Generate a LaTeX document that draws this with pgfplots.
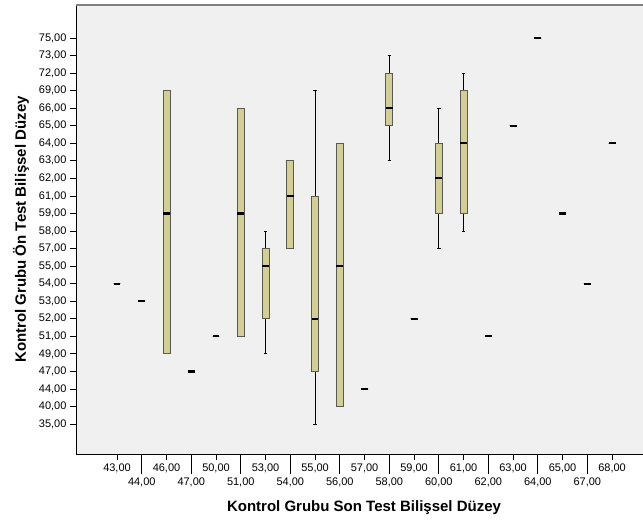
\documentclass[border=0pt]{standalone}
\usepackage{fontspec}
\setmainfont{Liberation Sans}
\usepackage{pgfplots}
\pgfplotsset{compat=1.18}
\usepgfplotslibrary{statistics}
\definecolor{boxfill}{RGB}{211,206,151}
\definecolor{boxedge}{RGB}{90,90,80}
\definecolor{bg}{RGB}{240,240,240}
\newcommand{\bp}[6]{\addplot[draw=boxedge, fill=boxfill, line width=0.8pt,
  boxplot prepared={draw position=#1, lower whisker=#2, lower quartile=#3,
  median=#4, upper quartile=#5, upper whisker=#6}] coordinates {};}
\begin{document}
\begin{tikzpicture}
\begin{axis}[
  at={(0,0)}, anchor=south west,
  width=567pt, height=449pt, scale only axis,
  xmin=-1.657, xmax=21.25, ymin=-1.705, ymax=23.88,
  axis x line*=bottom, axis y line*=left,
  axis line style={black, line width=0.8pt, -},
  axis background/.style={fill=bg},
  tick align=outside,
  major tick length=6pt,
  tick style={black, line width=0.8pt},
  tick label style={font=\fontsize{11}{13}\selectfont},
  xtick={0,2,...,20},
  xticklabels={{43,00},{46,00},{50,00},{53,00},{55,00},{57,00},{59,00},{61,00},{63,00},{65,00},{68,00}},
  extra x ticks={1,3,...,19},
  extra x tick labels={{44,00},{47,00},{51,00},{54,00},{56,00},{58,00},{60,00},{62,00},{64,00},{67,00}},
  extra x tick style={major tick length=20pt},
  ytick={0,...,22},
  yticklabels={{35,00},{40,00},{44,00},{47,00},{49,00},{51,00},{52,00},{53,00},{54,00},{55,00},{57,00},{58,00},{59,00},{61,00},{62,00},{63,00},{64,00},{65,00},{66,00},{69,00},{72,00},{73,00},{75,00}},
  xlabel={Kontrol Grubu Son Test Bilişsel Düzey},
  ylabel={Kontrol Grubu Ön Test Bilişsel Düzey},
  every axis x label/.style={at={(axis description cs:0.508,-0.120)}, anchor=center, font=\bfseries\fontsize{15}{18}\selectfont},
  every axis y label/.style={at={(axis description cs:-0.097,0.5)}, rotate=90, anchor=center, font=\bfseries\fontsize{15}{18}\selectfont},
  boxplot/draw direction=y,
  boxplot/box extend=0.28,
  boxplot/whisker extend=0.14,
  boxplot/every whisker/.style={black, line width=0.8pt},
  boxplot/every median/.style={black, line width=2.2pt},
]
\bp{0}{8}{8}{8}{8}{8}
\bp{1}{7}{7}{7}{7}{7}
\bp{2}{4}{4}{12}{19}{19}
\bp{3}{3}{3}{3}{3}{3}
\bp{4}{5}{5}{5}{5}{5}
\bp{5}{5}{5}{12}{18}{18}
\bp{6}{4}{6}{9}{10}{11}
\bp{7}{10}{10}{13}{15}{15}
\bp{8}{0}{3}{6}{13}{19}
\bp{9}{1}{1}{9}{16}{16}
\bp{10}{2}{2}{2}{2}{2}
\bp{11}{15}{17}{18}{20}{21}
\bp{12}{6}{6}{6}{6}{6}
\bp{13}{10}{12}{14}{16}{18}
\bp{14}{11}{12}{16}{19}{20}
\bp{15}{5}{5}{5}{5}{5}
\bp{16}{17}{17}{17}{17}{17}
\bp{17}{22}{22}{22}{22}{22}
\bp{18}{12}{12}{12}{12}{12}
\bp{19}{8}{8}{8}{8}{8}
\bp{20}{16}{16}{16}{16}{16}
\end{axis}
\draw[gray, line width=1.5pt] (0,449pt) -- (567pt,449pt);
\pgfresetboundingbox
\path[use as bounding box] (-76pt,-67pt) rectangle (567pt,454pt);
\end{tikzpicture}
\end{document}
